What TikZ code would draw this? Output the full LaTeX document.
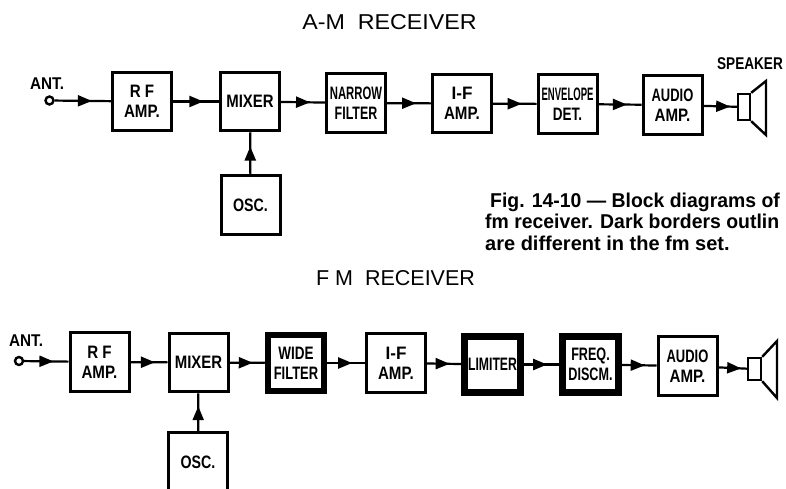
\documentclass[tikz,border=0pt]{standalone}
\usepackage{fontspec}
\setmainfont{Liberation Sans}
\usetikzlibrary{arrows.meta,decorations.markings}
\newcommand{\sq}[2]{\scalebox{#1}[1]{#2}}
\tikzset{
  x=1pt,y=-1pt,
  blk/.style={draw=black,line width=3pt,fill=white,minimum width=59pt,minimum height=58.5pt,inner sep=0pt,align=center,font=\fontsize{18}{20}\selectfont\bfseries},
  heavy/.style={blk,line width=6.5pt,minimum width=56pt,minimum height=56pt},
  term/.style={draw=black,line width=2.4pt,circle,inner sep=0pt,minimum size=8pt,fill=white},
  spk/.style={draw=black,line width=2.4pt,rectangle,inner sep=0pt,fill=white},
  flow/.style={draw=black,line width=2.2pt,decoration={markings,mark=at position #1 with {\arrow{Triangle[length=14pt,width=11pt]}}},postaction={decorate}},
  flow/.default=.66,
  lab/.style={inner sep=0pt,font=\fontsize{17}{20}\selectfont\bfseries},
  title/.style={inner sep=0pt,font=\fontsize{21.5}{24}\selectfont},
  capt/.style={inner sep=0pt,anchor=base west,font=\fontsize{20}{22}\selectfont\bfseries}
}
\begin{document}
\begin{tikzpicture}
\useasboundingbox (0,0) rectangle (786,488);
\fill[white] (0,0) rectangle (786,488);
% titles
\node[title] (t1) at (389.5,22) {\sq{1.08}{A-M\ \ RECEIVER}};
\node[title] (t2) at (395.5,278) {F M\ \ RECEIVER};
% AM
\node[term] (a0) at (49.5,100.5) {};
\node[lab] (a0l) at (47,84) {\sq{.9}{ANT.}};
\node[blk] (a1) at (142,101.5) {\sq{.84}{R F}\\\sq{.84}{AMP.}};
\node[blk] (a2) at (250,101.5) {\sq{.83}{MIXER}};
\node[blk] (a3) at (356,103) {\sq{.63}{NARROW}\\\sq{.69}{FILTER}};
\node[blk] (a4) at (462,103.5) {\sq{.95}{I-F}\\\sq{.84}{AMP.}};
\node[blk] (a5) at (567.5,104) {\sq{.53}{ENVELOPE}\\\sq{.75}{DET.}};
\node[blk] (a6) at (672.5,105) {\sq{.72}{AUDIO}\\\sq{.84}{AMP.}};
\node[spk,minimum width=12pt,minimum height=26pt] (a7) at (744,107) {};
\coordinate (a7t) at (766,81);
\coordinate (a7b) at (766,135);
\draw[line width=2.4pt,line join=miter] (a7.north east) -- (a7t) -- (a7b) -- (a7.south east);
\node[lab] (a7l) at (750,64) {\sq{.8}{SPEAKER}};
\node[blk] (ao) at (250.5,205) {\sq{.79}{OSC.}};
\draw[flow] (a0) -- (a1);
\draw[flow] (a1) -- (a2);
\draw[flow] (a2) -- (a3);
\draw[flow] (a3) -- (a4);
\draw[flow] (a4) -- (a5);
\draw[flow] (a5) -- (a6);
\draw[flow=.8] (a6) -- (a7);
\draw[flow=.66] (ao) -- (a2);
% caption
\node[capt] (c1) at (490,207) {\sq{.97}{Fig. 14-10 — Block diagrams of}};
\node[capt] (c2) at (485,228) {\sq{.97}{fm receiver. Dark borders outlin}};
\node[capt] (c3) at (485,250) {are different in the fm set.};
% FM
\node[term] (f0) at (19,361) {};
\node[lab] (f0l) at (26,341) {\sq{.9}{ANT.}};
\node[blk] (f1) at (99.5,362) {\sq{.84}{R F}\\\sq{.84}{AMP.}};
\node[blk] (f2) at (198.5,362.5) {\sq{.83}{MIXER}};
\node[heavy] (f3) at (296,363) {\sq{.75}{WIDE}\\\sq{.72}{FILTER}};
\node[blk] (f4) at (396,363) {\sq{.95}{I-F}\\\sq{.84}{AMP.}};
\node[heavy] (f5) at (492.5,364.5) {\sq{.68}{LIMITER}};
\node[heavy] (f6) at (590.5,364.5) {\sq{.7}{FREQ.}\\\sq{.7}{DISCM.}};
\node[blk] (f7) at (687.5,366) {\sq{.72}{AUDIO}\\\sq{.84}{AMP.}};
\node[spk,minimum width=13pt,minimum height=22pt] (f8) at (754.5,369) {};
\coordinate (f8t) at (777,341);
\coordinate (f8b) at (777,398);
\draw[line width=2.4pt,line join=miter] (f8.north east) -- (f8t) -- (f8b) -- (f8.south east);
\node[blk] (fo) at (198,462) {\sq{.79}{OSC.}};
\draw[flow] (f0) -- (f1);
\draw[flow] (f1) -- (f2);
\draw[flow] (f2) -- (f3);
\draw[flow] (f3) -- (f4);
\draw[flow] (f4) -- (f5);
\draw[flow] (f5) -- (f6);
\draw[flow] (f6) -- (f7);
\draw[flow=.8] (f7) -- (f8);
\draw[flow=.66] (fo) -- (f2);
\end{tikzpicture}
\end{document}
